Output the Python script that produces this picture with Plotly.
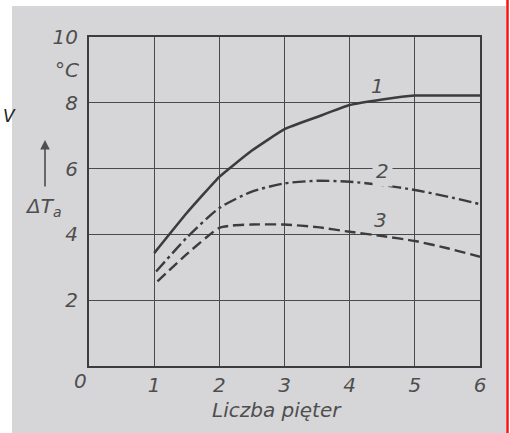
import plotly.graph_objects as go

# Data
floors_1 = [1.0, 1.5, 2.0, 2.5, 3.0, 3.5, 4.0, 4.5, 5.0, 5.5, 6.0]
dT_1 = [3.43, 4.65, 5.75, 6.55, 7.2, 7.57, 7.93, 8.1, 8.22, 8.22, 8.22]

floors_2 = [1.03, 1.5, 2.0, 2.5, 3.0, 3.5, 4.0, 4.5, 5.0, 5.5, 6.0]
dT_2 = [2.87, 3.9, 4.8, 5.3, 5.55, 5.63, 5.6, 5.5, 5.35, 5.15, 4.92]

floors_3 = [1.05, 1.5, 2.0, 2.2, 2.5, 3.0, 3.5, 4.0, 4.5, 5.0, 5.5, 6.0]
dT_3 = [2.57, 3.4, 4.2, 4.27, 4.3, 4.3, 4.22, 4.08, 3.95, 3.8, 3.58, 3.32]

x_ticks = [1, 2, 3, 4, 5, 6]
x_ticktext = ["1", "2", "3", "4", "5", "6"]
y_ticks = [2, 4, 6, 8, 10]
y_ticktext = ["2", "4", "6", "8", "10"]

curve_labels = ["1", "2", "3"]
label_x = [4.43, 4.5, 4.47]
label_y = [8.51, 5.93, 4.44]

INK = "#3c3c3c"
TXT = "#4e4e4e"
PAPER = "#d6d6d8"
FONT = "DejaVu Sans, sans-serif"

W, H = 510, 433
L, R, T, B = 89, 30, 37, 67
pw, ph = W - L - R, H - T - B


def px(x):
    return (x - L) / pw


def py(y):
    return (H - B - y) / ph


fig = go.Figure()
fig.add_trace(go.Scatter(x=floors_1, y=dT_1, mode="lines",
                         line=dict(color=INK, width=2.6, shape="spline", smoothing=0.35),
                         hoverinfo="skip", showlegend=False))
fig.add_trace(go.Scatter(x=floors_2, y=dT_2, mode="lines",
                         line=dict(color=INK, width=2.4, shape="spline", smoothing=0.7,
                                   dash="13px,4px,3px,4px"),
                         hoverinfo="skip", showlegend=False))
fig.add_trace(go.Scatter(x=floors_3, y=dT_3, mode="lines",
                         line=dict(color=INK, width=2.4, shape="spline", smoothing=0.6,
                                   dash="11px,5px"),
                         hoverinfo="skip", showlegend=False))

tickfont = dict(family=FONT, size=20, color=TXT, style="italic")

fig.update_layout(
    width=W, height=H,
    margin=dict(l=L, r=R, t=T, b=B),
    paper_bgcolor="white",
    plot_bgcolor="rgba(0,0,0,0)",
    xaxis=dict(range=[0, 6], tickvals=x_ticks, ticktext=x_ticktext,
               showgrid=True, gridcolor="#4a4a4a", gridwidth=1.4,
               showline=True, linecolor=INK, linewidth=2, mirror=True,
               zeroline=False, ticks="", tickfont=tickfont, fixedrange=True),
    yaxis=dict(range=[0, 10], tickvals=y_ticks, ticktext=y_ticktext,
               showgrid=True, gridcolor="#4a4a4a", gridwidth=1.4,
               showline=True, linecolor=INK, linewidth=2, mirror=True,
               zeroline=False, ticks="", tickfont=tickfont, fixedrange=True,
               ticklabelstandoff=5),
)

# scanned page background, page edge and red margin line
fig.add_shape(type="rect", xref="paper", yref="paper",
              x0=px(12), x1=px(506), y0=py(433), y1=py(6),
              fillcolor=PAPER, line=dict(width=0), layer="below")
fig.add_shape(type="line", xref="paper", yref="paper",
              x0=px(507.5), x1=px(507.5), y0=py(433), y1=py(0),
              line=dict(color="#ff1010", width=2.5), layer="above")

ann_font = dict(family=FONT, size=20, color=TXT, style="italic")
for t, xv, yv in zip(curve_labels, label_x, label_y):
    fig.add_annotation(x=xv, y=yv, text=t, showarrow=False, font=ann_font,
                       xanchor="center", yanchor="middle",
                       bgcolor=PAPER if t == "2" else None, borderpad=3)


def note(x, y, text, xanchor="center", font=ann_font):
    fig.add_annotation(xref="paper", yref="paper", x=px(x), y=py(y), text=text,
                       xanchor=xanchor, yanchor="middle", showarrow=False,
                       font=font)


note(80, 381, "0")
note(81, 70, "°C", xanchor="right")
note(277, 410, "Liczba pięter")
note(43, 207, "ΔT<sub>a</sub>")
note(1, 116, "V", xanchor="left",
     font=dict(family=FONT, size=17, color="#222222", style="italic"))

fig.add_annotation(xref="paper", yref="paper", x=px(45), y=py(140),
                   axref="pixel", ayref="pixel", ax=0, ay=48, text="",
                   showarrow=True, arrowhead=2, arrowsize=1.2, arrowwidth=1.6,
                   arrowcolor=TXT)

fig.write_html("out.html")
